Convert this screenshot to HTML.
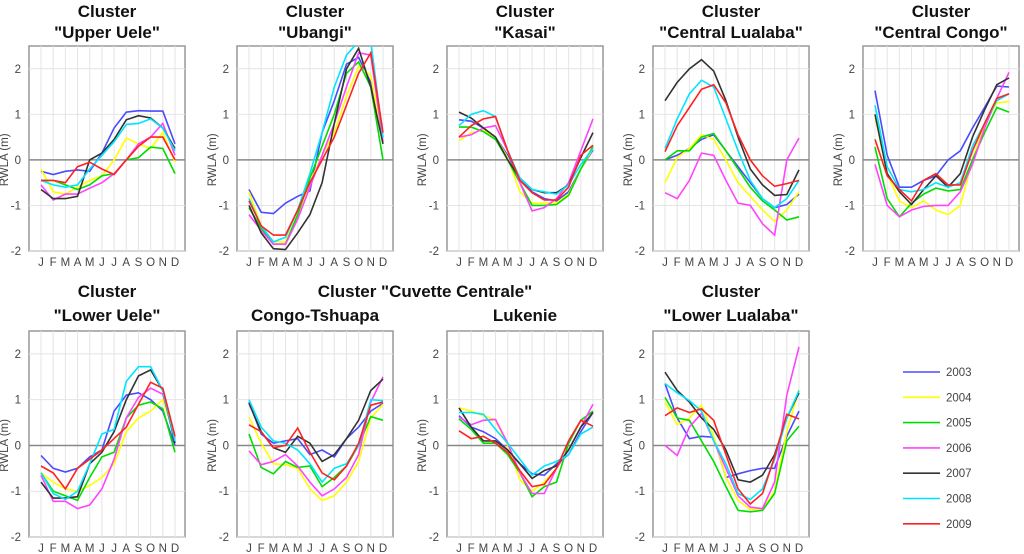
<!DOCTYPE html>
<html><head><meta charset="utf-8"><style>
body{margin:0;background:#fff;}
svg{display:block;font-family:"Liberation Sans",sans-serif;}
.t{font-weight:bold;font-size:17px;fill:#111;text-anchor:middle;}
.tk{font-size:11.5px;fill:#444;}
</style></head><body>
<svg id="chart" width="1024" height="554" viewBox="0 0 1024 554" xmlns="http://www.w3.org/2000/svg"></svg>
<script>
const months = ["J","F","M","A","M","J","J","A","S","O","N","D"];
const years = ["2003","2004","2005","2006","2007","2008","2009"];
const colors = ["#4a4aff","#ffff00","#00dd00","#ff44ff","#333333","#00e5ff","#ff2222"];
const yTicks = [-2,-1,0,1,2];
const panelTitles = [["Cluster","\"Upper Uele\""],["Cluster","\"Ubangi\""],["Cluster","\"Kasai\""],["Cluster","\"Central Lualaba\""],["Cluster","\"Central Congo\""],["Cluster","\"Lower Uele\""],["","Congo-Tshuapa"],["","Lukenie"],["Cluster","\"Lower Lualaba\""]];
const upperUele = [
[-0.25,-0.32,-0.25,-0.22,-0.25,0.15,0.7,1.05,1.08,1.07,1.07,0.35],
[-0.2,-0.7,-0.75,-0.6,-0.45,-0.35,0.0,0.48,0.35,0.25,0.6,-0.05],
[-0.45,-0.45,-0.55,-0.65,-0.55,-0.35,-0.3,0.0,0.05,0.28,0.25,-0.3],
[-0.55,-0.88,-0.75,-0.75,-0.62,-0.5,-0.3,0.0,0.35,0.5,0.8,0.1],
[-0.65,-0.85,-0.85,-0.8,0.0,0.15,0.45,0.88,0.97,0.92,0.7,0.25],
[-0.45,-0.55,-0.6,-0.55,-0.2,0.1,0.4,0.78,0.8,0.9,0.7,0.2],
[-0.45,-0.45,-0.5,-0.15,-0.05,-0.2,-0.32,0.0,0.3,0.5,0.5,0.0]];
const ubangi = [
[-0.65,-1.15,-1.18,-0.95,-0.8,-0.68,0.6,1.3,2.1,2.25,1.7,0.5],
[-0.7,-1.45,-1.8,-1.8,-1.2,-0.5,0.1,0.6,1.4,2.05,1.85,0.4],
[-1.05,-1.5,-1.85,-1.85,-1.2,-0.4,0.3,1.0,1.9,2.15,1.6,0.0],
[-1.2,-1.55,-1.85,-1.85,-1.3,-0.6,0.1,0.8,1.6,2.35,2.3,0.4],
[-1.0,-1.6,-1.95,-1.97,-1.6,-1.2,-0.5,0.8,2.0,2.45,1.6,0.35],
[-0.85,-1.45,-1.8,-1.7,-1.1,-0.3,0.6,1.6,2.3,2.6,2.6,0.5],
[-0.9,-1.45,-1.65,-1.65,-1.1,-0.5,0.0,0.5,1.2,1.9,2.35,0.6]];
const kasai = [
[0.88,0.85,0.7,0.5,0.1,-0.4,-0.7,-0.85,-0.9,-0.7,-0.2,0.22],
[0.42,0.6,0.65,0.5,0.05,-0.7,-0.95,-0.95,-0.95,-0.75,-0.2,0.25],
[0.72,0.72,0.62,0.45,0.0,-0.5,-1.0,-1.0,-0.98,-0.78,-0.2,0.3],
[0.5,0.55,0.7,0.75,0.2,-0.5,-1.12,-1.05,-0.85,-0.5,0.2,0.9],
[1.05,0.92,0.7,0.5,0.0,-0.4,-0.65,-0.72,-0.72,-0.55,0.05,0.6],
[0.75,1.0,1.08,0.95,0.2,-0.4,-0.65,-0.7,-0.75,-0.55,-0.1,0.25],
[0.5,0.75,0.9,0.95,0.2,-0.45,-0.72,-0.88,-0.88,-0.6,0.1,0.32]];
const centralLualaba = [
[0.0,0.1,0.25,0.45,0.55,0.2,-0.15,-0.5,-0.85,-1.05,-0.98,-0.75],
[-0.5,0.05,0.25,0.55,0.45,0.0,-0.5,-0.8,-1.1,-1.35,-1.1,-0.7],
[0.0,0.2,0.2,0.5,0.58,0.2,-0.2,-0.6,-0.9,-1.1,-1.32,-1.25],
[-0.72,-0.85,-0.45,0.15,0.1,-0.45,-0.95,-1.0,-1.4,-1.65,0.0,0.48],
[1.3,1.7,2.0,2.2,1.95,1.3,0.5,-0.2,-0.55,-0.78,-0.76,-0.22],
[0.25,0.9,1.45,1.75,1.6,0.9,0.2,-0.45,-0.85,-1.05,-0.85,-0.45],
[0.18,0.75,1.15,1.55,1.65,1.25,0.55,0.0,-0.35,-0.58,-0.52,-0.45]];
const centralCongo = [
[1.52,0.1,-0.6,-0.6,-0.45,-0.35,0.0,0.2,0.7,1.15,1.62,1.6],
[0.95,-0.3,-0.9,-1.05,-0.9,-1.1,-1.2,-1.0,0.0,0.8,1.25,1.28],
[0.28,-0.85,-1.25,-0.95,-0.75,-0.62,-0.68,-0.65,0.0,0.6,1.15,1.05],
[-0.1,-1.0,-1.25,-1.1,-1.02,-1.0,-1.0,-0.7,-0.1,0.7,1.35,1.92],
[1.0,-0.3,-0.7,-0.98,-0.65,-0.35,-0.6,-0.3,0.5,1.1,1.65,1.8],
[1.2,-0.15,-0.65,-0.7,-0.65,-0.5,-0.6,-0.5,0.3,0.8,1.3,1.45],
[0.45,-0.35,-0.65,-0.9,-0.45,-0.3,-0.55,-0.55,0.2,0.8,1.35,1.45]];
const lowerUele = [
[-0.22,-0.5,-0.58,-0.5,-0.25,-0.1,0.75,1.1,1.15,1.0,0.75,0.0],
[-0.6,-0.8,-0.95,-1.0,-0.88,-0.7,-0.4,0.3,0.6,0.75,1.0,0.2],
[-0.6,-1.0,-1.1,-1.2,-0.7,-0.25,-0.15,0.6,0.88,0.95,0.8,-0.15],
[-0.65,-1.22,-1.22,-1.38,-1.3,-0.95,-0.3,0.6,1.05,1.25,1.12,0.15],
[-0.8,-1.15,-1.15,-1.12,-0.4,-0.15,0.3,1.0,1.52,1.65,1.2,0.05],
[-0.6,-1.05,-1.18,-1.0,-0.4,0.25,0.35,1.4,1.72,1.72,1.2,0.1],
[-0.45,-0.6,-0.95,-0.5,-0.3,-0.1,0.15,0.4,0.9,1.38,1.25,0.2]];
const congoTshuapa = [
[0.95,0.25,0.05,0.1,0.15,-0.2,-0.1,-0.25,0.15,0.4,0.75,0.92],
[0.62,0.05,-0.4,-0.42,-0.5,-0.95,-1.2,-1.1,-0.8,-0.35,0.6,0.9],
[0.25,-0.48,-0.62,-0.35,-0.48,-0.45,-0.9,-0.7,-0.45,0.0,0.63,0.55],
[-0.12,-0.42,-0.35,-0.2,-0.45,-0.8,-1.1,-0.95,-0.7,-0.2,0.95,1.5],
[0.92,0.3,-0.05,-0.15,0.2,0.05,-0.35,-0.2,0.15,0.55,1.2,1.45],
[1.0,0.4,0.1,0.05,-0.1,-0.4,-0.8,-0.5,-0.4,0.0,1.0,0.98],
[0.45,0.3,-0.05,0.0,0.38,-0.15,-0.6,-0.75,-0.45,0.05,0.88,0.95]];
const lukenie = [
[0.65,0.4,0.3,0.15,-0.1,-0.4,-0.62,-0.65,-0.4,-0.2,0.3,0.72],
[0.82,0.75,0.65,0.55,0.0,-0.75,-1.0,-0.8,-0.5,-0.1,0.4,0.72],
[0.58,0.35,0.05,0.05,-0.2,-0.6,-1.12,-0.9,-0.8,0.05,0.55,0.75],
[0.62,0.45,0.55,0.57,0.05,-0.6,-1.05,-1.05,-0.5,-0.1,0.4,0.9],
[0.82,0.4,0.1,0.1,-0.1,-0.4,-0.72,-0.55,-0.45,-0.1,0.4,0.72],
[0.72,0.72,0.68,0.35,0.05,-0.3,-0.65,-0.45,-0.35,-0.2,0.25,0.4],
[0.32,0.15,0.2,0.05,-0.15,-0.55,-0.9,-0.85,-0.5,0.1,0.55,0.42]];
const lowerLualaba = [
[1.35,0.6,0.15,0.2,0.18,-0.7,-0.62,-0.55,-0.5,-0.5,0.2,0.75],
[0.95,0.45,0.6,0.88,0.2,-0.7,-1.2,-1.4,-1.4,-1.0,0.3,1.22],
[1.05,0.6,0.55,0.1,-0.35,-0.9,-1.42,-1.45,-1.42,-1.05,0.1,0.42],
[0.0,-0.22,0.4,0.7,0.1,-0.5,-1.1,-1.35,-1.38,-0.8,1.1,2.15],
[1.6,1.2,0.95,0.6,0.35,-0.1,-0.75,-0.8,-0.65,-0.2,0.6,1.15],
[1.35,1.15,0.98,0.75,0.1,-0.4,-1.05,-1.18,-0.95,-0.3,0.6,1.2],
[0.65,0.82,0.72,0.8,0.55,-0.2,-0.95,-1.28,-1.05,-0.25,0.68,0.58]];
const panelData = [upperUele,ubangi,kasai,centralLualaba,centralCongo,lowerUele,congoTshuapa,lukenie,lowerLualaba];
const panelNames = ["upper-uele","ubangi","kasai","central-lualaba","central-congo","lower-uele","congo-tshuapa","lukenie","lower-lualaba"];

const NS="http://www.w3.org/2000/svg";
const svg=document.getElementById('chart');
function mk(tag,attrs,parent,text){const e=document.createElementNS(NS,tag);for(const k in attrs)e.setAttribute(k,attrs[k]);if(text!==undefined)e.textContent=text;(parent||svg).appendChild(e);return e;}
const defs=mk('defs',{});
const lefts=[29,237,447,653,863];
panelData.forEach((data,p)=>{
  const row=p<5?0:1, col=p<5?p:p-5;
  const L=lefts[col], W=156, T=row?331:46, B=row?537:251;
  const x0=L+12, x1=L+W-10;
  const ys=v=>T+(2.5-v)*(B-T)/4.5;
  const xs=i=>x0+i*(x1-x0)/11;
  const cp=mk('clipPath',{id:'clip'+p},defs);
  mk('rect',{x:L,y:T,width:W,height:B-T},cp);
  const g=mk('g',{});
  
  
  mk('rect',{x:L,y:T,width:W,height:B-T,fill:'#fff',stroke:'#999','stroke-width':1.5},g);
  months.forEach((m,i)=>{
    mk('line',{x1:xs(i),x2:xs(i),y1:T,y2:B,stroke:'#e4e4e4','stroke-width':1},g);
    const t=mk('text',{x:xs(i),y:B+15,'text-anchor':'middle',class:'tk'},g,m);
    
    
  });
  yTicks.forEach(v=>{
    mk('line',{x1:L,x2:L+W,y1:ys(v),y2:ys(v),stroke:v===0?'#888':'#e4e4e4','stroke-width':v===0?1.5:1},g);
    const t=mk('text',{x:L-8,y:ys(v)+4,'text-anchor':'end',class:'tk'},g,String(v));
    
    
  });
  const yl=mk('text',{x:0,y:0,transform:`translate(${L-21},${ys(0)}) rotate(-90)`,'text-anchor':'middle',class:'tk'},g,'RWLA (m)');
  
  
  const ttl=panelTitles[p];
  const ty=row?[297,321]:[17,38];
  if(ttl[0]){const t=mk('text',{x:L+W/2,y:ty[0],class:'t'},g,ttl[0]);}
  const t2=mk('text',{x:L+W/2,y:ty[1],class:'t'},g,ttl[1]);
  
  
  const lg=mk('g',{'clip-path':'url(#clip'+p+')'},g);
  data.forEach((ser,s)=>{
    const pl=mk('polyline',{points:ser.map((v,i)=>xs(i).toFixed(1)+','+ys(v).toFixed(1)).join(' '),fill:'none',stroke:colors[s],'stroke-width':1.6},lg);
    
    
  });
});
const ct=mk('text',{x:425,y:297,class:'t'},svg,'Cluster "Cuvette Centrale"');


years.forEach((y,i)=>{
  const yy=372+i*25.3;
  const g=mk('g',{});
  
  
  mk('line',{x1:903,x2:940,y1:yy,y2:yy,stroke:colors[i],'stroke-width':1.6},g);
  mk('text',{x:946,y:yy+4,class:'tk'},g,y);
});
</script>
</body></html>
